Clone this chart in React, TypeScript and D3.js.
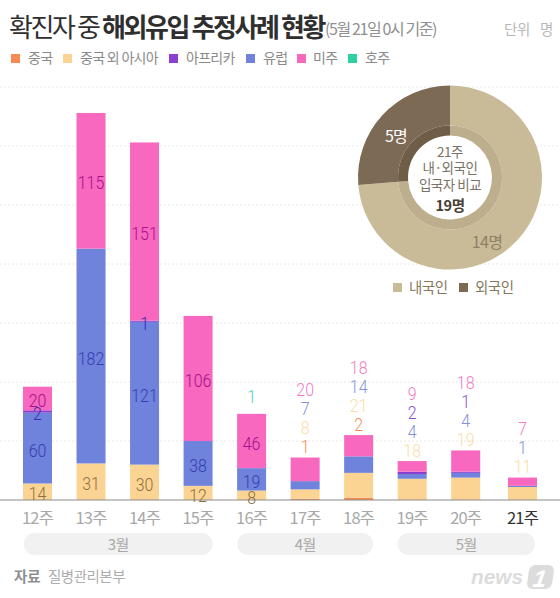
import React from "react";
import * as d3 from "d3";

const weeks = ["12주","13주","14주","15주","16주","17주","18주","19주","20주","21주"];
const china = [0,0,0,0,0,1,2,0,0,0];
const asia = [14,31,30,12,8,8,21,18,19,11];
const europe = [60,182,121,38,19,7,14,4,4,1];
const africa = [2,0,1,0,0,0,0,2,1,0];
const americas = [20,115,151,106,46,20,18,9,18,7];
const oceania = [0,0,0,0,1,0,0,0,0,0];
const seriesKeys = ["중국","중국 외 아시아","유럽","아프리카","미주","호주"];
const seriesValues = [china,asia,europe,africa,americas,oceania];
const seriesColors = ["#F68C52","#FBD493","#6F82DC","#8A3FCE","#F868BE","#2ED1A2"];
const insideColors = ["#9a5a2a","#8b6f42","#3A3DAE","#3A2BB0","#A4128C","#2ED1A2"];
const outsideColors = ["#F68C52","#FBDDA8","#8092DC","#8A4FD0","#F07CC4","#4AD6AC"];
const legendOrder = ["중국","중국 외 아시아","아프리카","유럽","미주","호주"];
const legendSwatchX = [11,63,169,246,297,348];
const legendTextX = [28,80,186,263,313,365];
const months = [{name:"3월",from:0,to:3},{name:"4월",from:4,to:6},{name:"5월",from:7,to:9}];
const donutLabels = ["내국인","외국인"];
const donutValues = [14,5];
const donutColors = ["#C9BB98","#7D6A54"];
const ringColors = ["#BDAF8D","#6F5D48"];

const W = 560, H = 598;
const font = "'Noto Sans CJK KR','Noto Sans',sans-serif";
const numFont = "Roboto,'Noto Sans CJK KR',sans-serif";
const x = d3.scaleLinear().domain([0,8,9]).range([37.5,465.7,522.5]);
const y = d3.scaleLinear().domain([0,350]).range([500,87]);
const barW = 29;

const totals = weeks.map((_,i)=>d3.sum(seriesValues,s=>s[i]));
const stackGen = d3.stack<number>().keys(seriesKeys.map((_,i)=>String(i))).value((i,k)=>seriesValues[+k][i]);
const stacked = stackGen(weeks.map((_,i)=>i));

const pie = d3.pie<number>().sort(null)(donutValues);
const outerArc = d3.arc<any>().innerRadius(52).outerRadius(92);
const ringArc = d3.arc<any>().innerRadius(42).outerRadius(52);

function Num({cx,cy,fill,v}:{cx:number;cy:number;fill:string;v:number}){
  return <text transform={`translate(${cx},${cy}) scale(0.84,1)`} dy="0.35em" textAnchor="middle" fontFamily={numFont} fontWeight={300} fontSize={19} fill={fill}>{v}</text>;
}

export default function App(){
  const lineY = y(0);
  return (
    <svg width={W} height={H} viewBox={`0 0 ${W} ${H}`} style={{position:"absolute",left:0,top:0,background:"#fff"}} fontFamily={font}>
      <text x={9} y={37} fontSize={26} letterSpacing={-2.4} fill="#2f2f2f">
        <tspan>확진자 중 </tspan><tspan fontWeight={700}>해외유입 추정사례 현황</tspan>
      </text>
      <text x={325} y={35} fontSize={16} letterSpacing={-1.4} fill="#909090">(5월 21일 0시 기준)</text>
      <text x={504} y={35} fontSize={14.5} fill="#b8b8b8" letterSpacing={-0.3}>단위</text>
      <text x={540} y={35} fontSize={14.5} fill="#b8b8b8">명</text>

      {legendOrder.map((k,i)=>{
        const c = seriesColors[seriesKeys.indexOf(k)];
        return <g key={k}>
          <rect x={legendSwatchX[i]} y={54} width={9} height={9} fill={c}/>
          <text x={legendTextX[i]} y={63} fontSize={14} letterSpacing={-0.7} fill="#8a8a8a">{k}</text>
        </g>;
      })}

      {y.ticks(7).filter(t=>t>0).map(t=>(
        <line key={t} x1={0} x2={W} y1={y(t)} y2={y(t)} stroke="#e8e8e8" strokeDasharray="2 2"/>
      ))}

      {stacked.map((layer,si)=>layer.map((d,i)=>{
        const v = seriesValues[si][i];
        if(!v || si===5) return null;
        return <rect key={si+"-"+i} x={x(i)-barW/2} width={barW} y={y(d[1])} height={y(d[0])-y(d[1])} fill={seriesColors[si]}/>;
      }))}

      <line x1={0} x2={W} y1={lineY} y2={lineY} stroke="#8a8a8a" strokeWidth={1}/>

      {weeks.map((_,i)=>{
        const inside = totals[i]>=70;
        const outs:{t:number;c:string}[] = [];
        const nodes:React.ReactNode[] = [];
        stacked.forEach((layer,si)=>{
          const v = seriesValues[si][i];
          if(!v) return;
          if(inside && si!==5){
            const d = layer[i];
            const raw = y((d[0]+d[1])/2)+2;
            nodes.push(<Num key={si} cx={x(i)} cy={Math.min(raw,497)} fill={insideColors[si]} v={v}/>);
          } else outs.push({t:v,c:outsideColors[si]});
        });
        outs.forEach((o,k)=>{
          nodes.push(<Num key={"o"+k} cx={x(i)} cy={y(totals[i])-11-(k+(i===4?0.3:0))*19} fill={o.c} v={o.t}/>);
        });
        return <g key={i}>{nodes}</g>;
      })}

      {weeks.map((w,i)=>(
        <text key={w} x={x(i)} y={524} textAnchor="middle" fontSize={16.5} letterSpacing={-0.8} fill={i===9?"#333":"#a8a8a8"}>{w}</text>
      ))}
      {months.map(m=>{
        const a = x(m.from)-barW/2+ (m.from===0?1:0), b = x(m.to)+barW/2-(m.to===9?2:0);
        return <g key={m.name}>
          <rect x={a} y={533} width={b-a} height={22} rx={11} fill="#f1f1f1"/>
          <text x={(a+b)/2} y={550} textAnchor="middle" fontSize={15} letterSpacing={-0.6} fill="#a8a8a8">{m.name}</text>
        </g>;
      })}

      <text x={14} y={582} fontSize={14.5} fontWeight={700} fill="#8f8f8f">자료</text>
      <text x={48} y={582} fontSize={14.5} letterSpacing={-0.5} fill="#adadad">질병관리본부</text>

      <g transform="translate(450,177.5)">
        <circle r={42} fill="#fff"/>
        {pie.map((p,i)=><path key={i} d={outerArc(p)!} fill={donutColors[i]}/>)}
        {pie.map((p,i)=><path key={"r"+i} d={ringArc(p)!} fill={ringColors[i]}/>)}
        <text y={-21} textAnchor="middle" fontSize={13.5} letterSpacing={-0.4} fill="#7a7266">21주</text>
        <text y={-4.5} textAnchor="middle" fontSize={13.5} letterSpacing={-0.4} fill="#7a7266">내·외국인</text>
        <text y={12.5} textAnchor="middle" fontSize={13.5} letterSpacing={-0.5} fill="#7a7266">입국자 비교</text>
        <text y={33} textAnchor="middle" fontSize={14.5} letterSpacing={-0.4} fontWeight={700} fill="#4a3f33">{d3.sum(donutValues)}명</text>
        <text x={37} y={70} textAnchor="middle" fontSize={16} letterSpacing={-0.7} fill="#8f7f63">{donutValues[0]}명</text>
        <text x={-54} y={-36} textAnchor="middle" fontSize={16} letterSpacing={-0.7} fill="#fff">{donutValues[1]}명</text>
      </g>
      {donutLabels.map((l,i)=>(
        <g key={l}>
          <rect x={[393,459][i]} y={283} width={9} height={9} fill={donutColors[i]}/>
          <text x={[409,475][i]} y={293} fontSize={14.5} letterSpacing={-0.5} fill="#85795f">{l}</text>
        </g>
      ))}

      <g fill="#dcdcdc">
        <text x={471} y={584} fontFamily="'Liberation Sans',sans-serif" fontStyle="italic" fontWeight={700} fontSize={20} textLength={52} lengthAdjust="spacingAndGlyphs">news</text>
        <g transform="translate(540,577) skewX(-8)">
          <rect x={-12} y={-12} width={25} height={24} rx={6}/>
          <text x={0} y={10} fontFamily="'Liberation Sans',sans-serif" fontStyle="italic" fontWeight={700} fontSize={24} textAnchor="middle" fill="#fff">1</text>
        </g>
      </g>
    </svg>
  );
}
